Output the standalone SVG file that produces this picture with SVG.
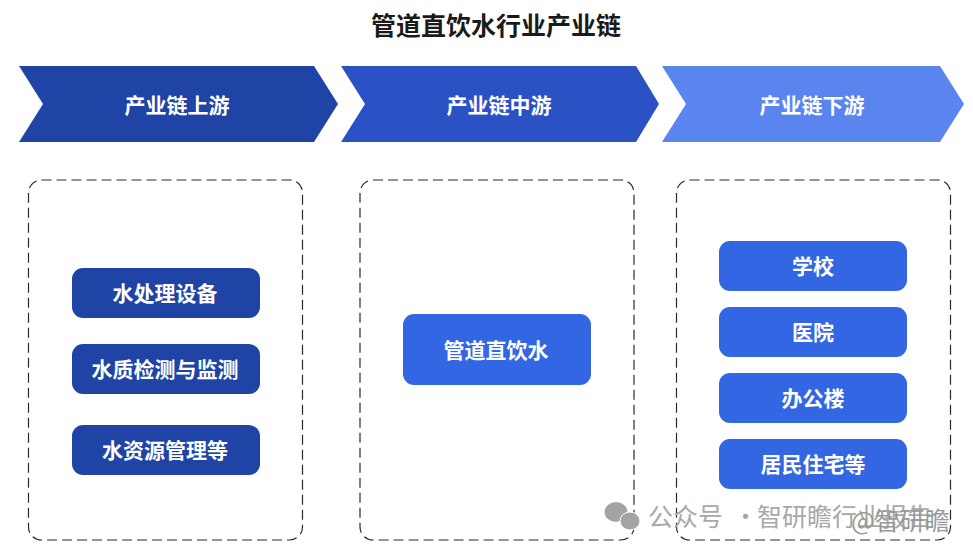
<svg xmlns="http://www.w3.org/2000/svg" width="973" height="554" viewBox="0 0 973 554">
<style>
text{font-family:"Noto Sans CJK SC","Liberation Sans",sans-serif;text-anchor:middle;dominant-baseline:central}
.t{font-size:25px;font-weight:700;fill:#1a1a1a}
.h{font-size:21px;font-weight:700;fill:#fff}
.n{font-size:21px;font-weight:700;fill:#fff}
.box{fill:#fff;stroke:#2a2a2a;stroke-width:1.2;stroke-dasharray:10 5}
.d{fill:#1f44a6}
.m{fill:#3366e3}
.wm{font-size:25px;fill:#a8a8a8;text-anchor:start}
.wm2{font-size:25px;fill:#999;text-anchor:start}
</style>
<rect width="973" height="554" fill="#fff"/>
<text class="t" x="496" y="24">管道直饮水行业产业链</text>
<g id="head-up"><polygon points="19,66 314,66 338,104 314,142 19,142 43,104" fill="#1f44a6"/><text class="h" x="177" y="104">产业链上游</text></g>
<g id="head-mid"><polygon points="341,66 636,66 659,104 636,142 341,142 365,104" fill="#2b52c4"/><text class="h" x="499" y="104">产业链中游</text></g>
<g id="head-down"><polygon points="662,66 940,66 964,104 940,142 662,142 686,104" fill="#5a85ef"/><text class="h" x="812" y="104">产业链下游</text></g>
<g id="panel-up"><rect class="box" x="28.500" y="180" width="274" height="360" rx="13"/></g>
<g id="panel-mid"><rect class="box" x="360" y="180" width="274" height="360" rx="13"/></g>
<g id="panel-down"><rect class="box" x="676.500" y="180" width="274" height="360" rx="13"/></g>
<g id="n1"><rect class="d" x="72" y="268" width="188" height="50" rx="11"/><text class="n" x="165" y="292">水处理设备</text></g>
<g id="n2"><rect class="d" x="72" y="344" width="188" height="50" rx="11"/><text class="n" x="165" y="368">水质检测与监测</text></g>
<g id="n3"><rect class="d" x="72" y="425" width="188" height="50" rx="11"/><text class="n" x="165" y="449">水资源管理等</text></g>
<g id="n4"><rect class="m" x="403" y="314" width="188" height="71" rx="11"/><text class="n" x="496" y="349">管道直饮水</text></g>
<g id="n5"><rect class="m" x="719" y="241" width="188" height="50" rx="11"/><text class="n" x="813" y="265">学校</text></g>
<g id="n6"><rect class="m" x="719" y="307" width="188" height="50" rx="11"/><text class="n" x="813" y="331">医院</text></g>
<g id="n7"><rect class="m" x="719" y="373" width="188" height="50" rx="11"/><text class="n" x="813" y="397">办公楼</text></g>
<g id="n8"><rect class="m" x="719" y="439" width="188" height="50" rx="11"/><text class="n" x="813" y="463">居民住宅等</text></g>
<g id="connectors"></g>
<g id="watermark">
<ellipse cx="616" cy="512" rx="11.500" ry="10" fill="#a4a4a4"/>
<ellipse cx="630" cy="521" rx="10" ry="9" fill="#a4a4a4" stroke="#fff"/>
<text class="wm" x="648" y="515">公众号</text>
<text class="wm" x="733" y="515">·</text>
<text class="wm" x="757" y="515">智研瞻行业报告</text>
<text class="wm2" x="851" y="519">@智研瞻</text>
</g>
</svg>
